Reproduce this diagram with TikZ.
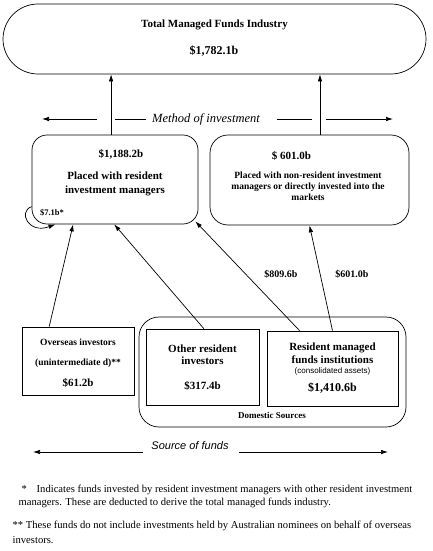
\documentclass[tikz,border=0pt]{standalone}
\usepackage{fontspec}
\setmainfont{Liberation Serif}
\newfontfamily\sansfont{Liberation Sans}
\usetikzlibrary{arrows.meta}
\tikzset{
  rb/.style={rectangle, rounded corners=15pt, draw=black, inner sep=0pt},
  sq/.style={rectangle, draw=black, inner sep=0pt},
  amt/.style={font=\fontsize{11}{13}\selectfont\bfseries},
  bigamt/.style={font=\fontsize{12}{14}\selectfont\bfseries},
  txt/.style={font=\fontsize{11}{14}\selectfont\bfseries, align=center},
  smtxt/.style={font=\fontsize{9.5}{11}\selectfont\bfseries, align=center},
  lab/.style={font=\fontsize{10}{12}\selectfont\bfseries},
  hd/.style={font=\fontsize{12.5}{14}\selectfont\itshape},
  note/.style={font=\fontsize{10.6}{12}\selectfont, anchor=west},
  flow/.style={-{Latex[length=7pt,width=4.5pt]}}
}

\begin{document}
\begin{tikzpicture}[x=1pt, y=-1pt, line width=0.7pt]
	\useasboundingbox (0,0) rectangle (433,551);

	% top of the chart
	\node[rb, rounded corners=35pt, minimum width=423pt, minimum height=70pt] (total) at (214.5,39) {};
	\node[font=\fontsize{11}{12}\selectfont\bfseries] (totalT) at (214.5,25) {Total Managed Funds Industry};
	\node[bigamt] (totalV) at (214,51) {\$1,782.1b};

	% method of investment
	\node[rb, minimum width=166pt, minimum height=89pt] (resinv) at (115,179.5) {};
	\node[amt] (resinvV) at (121,154) {\$1,188.2b};
	\node[txt] (resinvT) at (115,184) {Placed with resident\\investment managers};
	\node[font=\fontsize{8.5}{10}\selectfont\bfseries] (selfV) at (52,213) {\$7.1b*};

	\node[rb, rounded corners=18pt, minimum width=199pt, minimum height=90pt] (nonres) at (309.5,180) {};
	\node[amt] (nonresV) at (291.5,156) {\$ 601.0b};
	\node[smtxt] (nonresT) at (308,186) {Placed with non-resident investment\\managers or directly invested into the\\markets};

	\node[hd] (method) at (206,119) {Method of investment};
	\coordinate (mL) at (42,119);
	\coordinate (mLa) at (97,119);
	\coordinate (mR) at (393,119);
	\coordinate (mRa) at (326,119);

	% sources
	\node[rb, rounded corners=20pt, minimum width=267pt, minimum height=110pt] (domestic) at (272.5,372) {};
	\node[font=\fontsize{9}{10}\selectfont\bfseries] (domesticT) at (272,415) {Domestic Sources};

	\node[sq, minimum width=112pt, minimum height=68pt] (overseas) at (78,361) {};
	\node[font=\fontsize{9.5}{20}\selectfont\bfseries, align=center] (overseasT) at (78,353) {Overseas investors\\(unintermediate d)**};
	\node[amt] (overseasV) at (78,383) {\$61.2b};

	\node[sq, minimum width=113pt, minimum height=76pt] (otherinv) at (202.5,367) {};
	\node[txt, font=\fontsize{11}{12}\selectfont\bfseries] (otherinvT) at (202.5,355) {Other resident\\investors};
	\node[amt] (otherinvV) at (202.5,386) {\$317.4b};

	\node[sq, minimum width=131pt, minimum height=75pt] (mfinst) at (332.5,368.5) {};
	\node[txt, font=\fontsize{11}{13}\selectfont\bfseries] (mfinstT) at (332.5,353) {Resident managed\\funds institutions};
	\node[font=\fontsize{8}{9}\selectfont\sansfont] (mfinstN) at (332.5,371) {(consolidated assets)};
	\node[bigamt] (mfinstV) at (332.5,388) {\$1,410.6b};

	\node[font=\fontsize{11}{12}\selectfont\sansfont\itshape] (source) at (190,446) {Source of funds};
	\coordinate (sL) at (33,452);
	\coordinate (sLa) at (143,452);
	\coordinate (sR) at (388,452);
	\coordinate (sRa) at (239,452);

	% flows
	\draw[flow] (resinv.95) -- (resinv.95 |- total.south);
	\draw[flow] (nonres.77.6) -- (nonres.77.6 |- total.south);
	\draw[flow] (overseas.130) -- (resinv.227);
	\draw[flow] (otherinv.88) -- (resinv.269);
	\draw[flow] (mfinst.131) -- ([shift={(-3,-3)}]resinv.south east);
	\draw[flow] (mfinst.north) -- (nonres.south);
	\draw[flow] (resinv.198) .. controls +(-14,5) and +(-27,10) .. (resinv.217);
	\node[lab] (v809) at (281,274) {\$809.6b};
	\node[lab] (v601) at (352,274) {\$601.0b};

	% side arrows
	\draw[flow] (mLa) -- (mL);
	\draw ([xshift=-3pt]method.west) -- (115,119);
	\draw ([xshift=14pt]method.east) -- (312,119);
	\draw[flow] (mRa) -- (mR);
	\draw[flow] (sLa) -- (sL);
	\draw[flow] (sRa) -- (sR);

	% notes
	\node[note] (note1) at (15,490) {\makebox[18pt][l]{\hspace{3pt}*}Indicates funds invested by resident investment managers with other resident investment};
	\node[note] (note2) at (15,503) {managers. These are deducted to derive the total managed funds industry.};
	\node[note] (note3) at (9,526) {** These funds do not include investments held by Australian nominees on behalf of overseas};
	\node[note] (note4) at (9,540) {investors.};
\end{tikzpicture}
\end{document}
